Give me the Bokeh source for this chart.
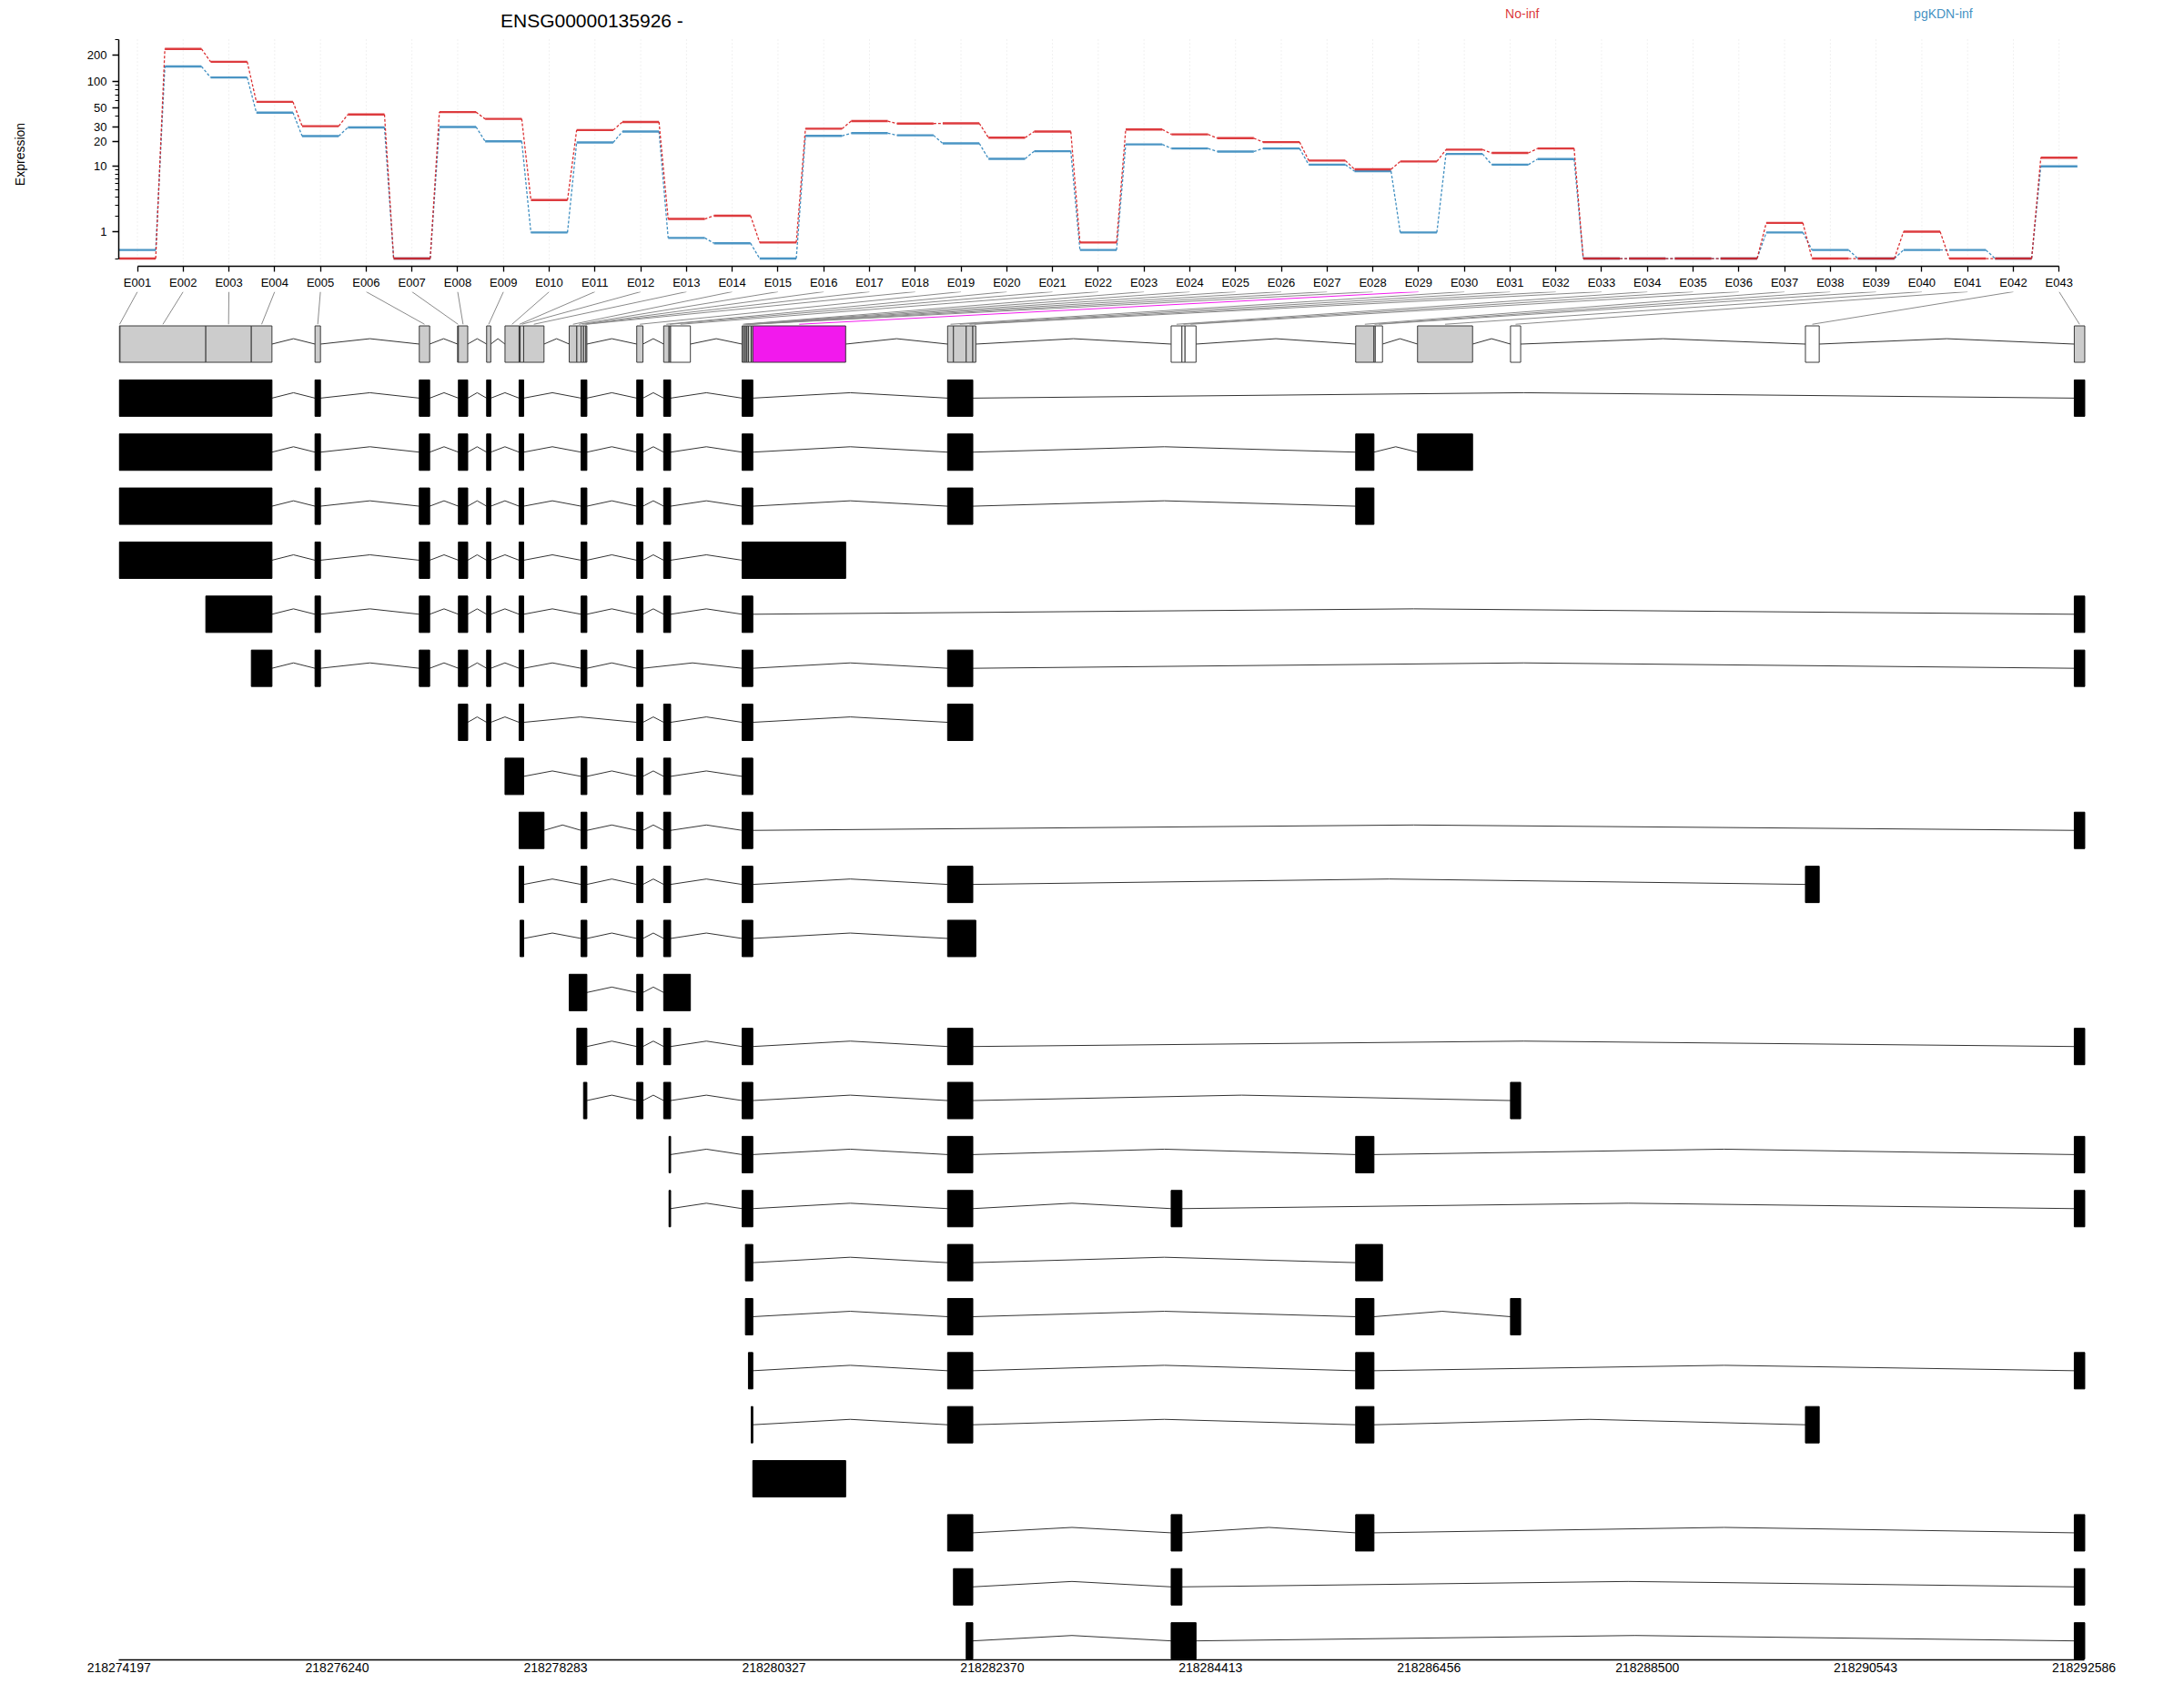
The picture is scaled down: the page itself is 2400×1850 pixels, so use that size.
import math
from bokeh.plotting import figure
from bokeh.models import (Range1d, FixedTicker, CustomJSTickFormatter,
                          NumeralTickFormatter, Label, ColumnDataSource)
from bokeh.layouts import column, row
from bokeh.embed import file_html
from bokeh.resources import INLINE

FONT = "Liberation Sans"

# ---------------- data ----------------
gene_title = "ENSG00000135926 -"
y_axis_title = "Expression"
condition_names = ["No-inf", "pgKDN-inf"]
condition_colors = ["#D7191C", "#2B83BA"]

exon_ids = ["E001", "E002", "E003", "E004", "E005", "E006", "E007", "E008", "E009", "E010",
            "E011", "E012", "E013", "E014", "E015", "E016", "E017", "E018", "E019", "E020",
            "E021", "E022", "E023", "E024", "E025", "E026", "E027", "E028", "E029", "E030",
            "E031", "E032", "E033", "E034", "E035", "E036", "E037", "E038", "E039", "E040",
            "E041", "E042", "E043"]

expr_no_inf = [0, 233, 166, 58, 30.3, 41.4, 0, 44.2, 36.8, 3.58,
               27.3, 33.9, 1.80, 2.05, 0.52, 28.3, 34.7, 32.5, 32.7, 22.2,
               26.2, 0.52, 27.7, 24.3, 21.9, 19.7, 11.8, 9.2, 11.5, 16.0,
               14.6, 16.5, 0, 0, 0, 0, 1.53, 0, 0, 1.01,
               0, 0, 12.8]
expr_pgkdn_inf = [0.25, 147, 110, 43.5, 23.2, 29.3, 0, 29.7, 20.1, 0.97,
                  19.5, 26.2, 0.71, 0.49, 0, 23.3, 25.1, 23.7, 19.0, 12.4,
                  15.3, 0.25, 18.5, 16.5, 15.2, 16.5, 10.5, 8.7, 0.97, 14.2,
                  10.5, 12.3, 0, 0, 0, 0, 0.97, 0.25, 0, 0.25,
                  0.25, 0, 10.0]

y_tick_values = [1, 10, 20, 30, 50, 100, 200]
y_minor_values = [0, 1, 2, 3, 4, 5, 6, 7, 8, 9, 10, 20, 30, 40, 50, 60, 70, 80, 90, 100, 200, 300]

bin_start = [218274200, 218274207, 218275010, 218275436, 218276032, 218277008, 218277366,
             218277374, 218277638, 218277810, 218277942, 218277951, 218277985, 218278411,
             218278482, 218278522, 218278545, 218278567, 218279043, 218279295, 218279345,
             218279360, 218280029, 218280044, 218280060, 218280074, 218280088, 218280114,
             218280129, 218281952, 218282007, 218282126, 218282188, 218284044, 218284145,
             218284174, 218285771, 218285942, 218285954, 218286350, 218287220, 218289980,
             218292496]
bin_end = [218274207, 218275010, 218275436, 218275629, 218276083, 218277105, 218277374,
           218277461, 218277677, 218277942, 218277951, 218277985, 218278175, 218278482,
           218278522, 218278545, 218278567, 218278576, 218279101, 218279345, 218279360,
           218279545, 218280044, 218280060, 218280074, 218280088, 218280114, 218280129,
           218280998, 218282007, 218282126, 218282188, 218282216, 218284145, 218284174,
           218284277, 218285942, 218285954, 218286022, 218286865, 218287315, 218290109,
           218292594]
# g = tested (grey), w = not tested (white), s = significant (magenta)
bin_status = ["g", "g", "g", "g", "g", "g", "g", "g", "g", "g",
              "g", "g", "g", "g", "g", "g", "g", "g", "g", "g",
              "g", "w", "g", "g", "g", "g", "g", "g", "s", "g",
              "g", "g", "g", "w", "w", "w", "g", "w", "w", "g",
              "w", "w", "g"]
status_fill = {"g": "#CCCCCC", "w": "#FFFFFF", "s": "#F219ED"}

# transcripts: exon bins used (ranges of consecutive bins form one exon)
transcripts = [
    "1-4,5,6,8,9,11-12,16-18,19,20-21,23-28,30-32,43",
    "1-4,5,6,8,9,11-12,16-18,19,20-21,23-28,30-32,37,40",
    "1-4,5,6,8,9,11-12,16-18,19,20-21,23-28,30-32,37",
    "1-4,5,6,8,9,11-12,16-18,19,20-21,23-29",
    "3-4,5,6,8,9,11-12,16-18,19,20-21,23-28,43",
    "4,5,6,8,9,11-12,16-18,19,23-28,30-32,43",
    "8,9,11-12,19,20-21,23-28,30-32",
    "10-12,16-18,19,20-21,23-28",
    "11-13,16-18,19,20-21,23-28,43",
    "11-12,16-18,19,20-21,23-28,30-32,42",
    "12,16-18,19,20-21,23-28,30-33",
    "14-18,19,20-22",
    "15-18,19,20-21,23-28,30-32,43",
    "17-18,19,20-21,23-28,30-32,41",
    "21,23-28,30-32,37,43",
    "21,23-28,30-32,34,43",
    "25-28,30-32,37-39",
    "25-28,30-32,37,41",
    "27-28,30-32,37,43",
    "28,30-32,37,42",
    "29",
    "30-32,34,37,43",
    "31-32,34,43",
    "32,34-36,43",
]

axis_ticks = [218274197, 218276240, 218278283, 218280327, 218282370,
              218284413, 218286456, 218288500, 218290543, 218292586]

# ---------------- layout helpers (page pixels) ----------------
LAB_W = 80                       # narrow strip holding the y-axis title
FIG_W = 2392 - LAB_W
MB_L = 130 - LAB_W
FRAME_L, FRAME_R = 130, 2296
MB_R = LAB_W + FIG_W - FRAME_R
EX_PX0, EX_STEP = 150.5, 50.28                      # E001 position, spacing (px)
LOG_PX1, LOG_SCALE = 256.0, 97.89                   # px of value 1, px per log10 unit


def L(v):
    return math.log10(v + 1.0)


def px_to_ex(px):
    return 1 + (px - EX_PX0) / EX_STEP


def py_to_L(py):
    return L(1) + (LOG_PX1 - py) / LOG_SCALE


TOP_H, TOP_MB_B = 320, 26
x0, x1 = px_to_ex(FRAME_L), px_to_ex(FRAME_R)
yb, yt = py_to_L(TOP_H - TOP_MB_B), py_to_L(0)

# ---------------- y-axis title strip ----------------
p0 = figure(width=LAB_W, height=TOP_H, x_range=Range1d(0, LAB_W), y_range=Range1d(0, TOP_H),
            output_backend="svg", toolbar_location=None, min_border=0)
p0.axis.visible = False
p0.grid.visible = False
p0.outline_line_color = None
p0.add_layout(Label(x=21, y=TOP_H - 169, text=y_axis_title, angle=math.pi / 2,
                    text_font=FONT, text_font_size="14px", text_color="black",
                    text_align="center", text_baseline="middle"))

# ---------------- expression panel ----------------
p1 = figure(width=FIG_W, height=TOP_H, x_range=Range1d(x0, x1), y_range=Range1d(yb, yt),
            output_backend="svg", toolbar_location=None,
            min_border_left=MB_L, min_border_right=MB_R, min_border_top=0,
            min_border_bottom=TOP_MB_B)
p1.xgrid.visible = False
p1.ygrid.visible = False
p1.outline_line_color = None
p1.background_fill_color = "white"

idx = list(range(1, len(exon_ids) + 1))
p1.segment(x0=idx, y0=[yb] * len(idx), x1=idx, y1=[L(300)] * len(idx),
           line_color="#E2E2E2", line_width=1, line_dash="1 3")

for vals, col in [(expr_pgkdn_inf, condition_colors[1]), (expr_no_inf, condition_colors[0])]:
    lv = [L(v) for v in vals]
    seg = ColumnDataSource(dict(x0=[i - 0.4 for i in idx], x1=[i + 0.4 for i in idx], y=lv))
    con = ColumnDataSource(dict(x0=[i + 0.4 for i in idx[:-1]], x1=[i + 0.6 for i in idx[:-1]],
                                y0=lv[:-1], y1=lv[1:]))
    p1.segment(x0="x0", y0="y0", x1="x1", y1="y1", source=con, line_color=col,
               line_width=1.3, line_dash="3 2", line_alpha=0.9)
    p1.segment(x0="x0", y0="y", x1="x1", y1="y", source=seg, line_color=col,
               line_width=2.4, line_alpha=0.85)

xa = p1.xaxis[0]
xa.ticker = FixedTicker(ticks=idx)
xa.major_label_overrides = {i: exon_ids[i - 1] for i in idx}
xa.bounds = (1, len(idx))
xa.axis_line_width = 1.5
xa.major_tick_line_width = 1.3
xa.major_tick_out = 6
xa.major_tick_in = 0
xa.minor_tick_line_color = None
xa.major_label_standoff = 4
xa.major_label_text_font = FONT
xa.major_label_text_font_size = "13px"
xa.major_label_text_color = "black"

ya = p1.yaxis[0]
ya.ticker = FixedTicker(ticks=[L(v) for v in y_tick_values],
                        minor_ticks=[L(v) for v in y_minor_values])
ya.formatter = CustomJSTickFormatter(code="return String(Math.round(Math.pow(10, tick) - 1));")
ya.bounds = (L(0), L(300))
ya.axis_line_width = 1.5
ya.major_tick_line_width = 1.3
ya.major_tick_out = 7
ya.major_tick_in = 0
ya.minor_tick_out = 4
ya.minor_tick_in = 0
ya.minor_tick_line_width = 1.1
ya.major_label_standoff = 6
ya.major_label_orientation = "horizontal"
ya.major_label_text_font = FONT
ya.major_label_text_font_size = "13px"
ya.major_label_text_color = "black"

p1.add_layout(Label(x=px_to_ex(549.5), y=py_to_L(21.7), text=gene_title,
                    text_font=FONT, text_font_size="21px", text_color="black",
                    text_align="left", text_baseline="alphabetic"))
p1.add_layout(Label(x=px_to_ex(1653.6), y=py_to_L(14.5), text=condition_names[0],
                    text_font=FONT, text_font_size="14px", text_color=condition_colors[0],
                    text_alpha=0.9, text_align="left", text_baseline="alphabetic"))
p1.add_layout(Label(x=px_to_ex(2102.6), y=py_to_L(14.5), text=condition_names[1],
                    text_font=FONT, text_font_size="14px", text_color=condition_colors[1],
                    text_alpha=0.9, text_align="left", text_baseline="alphabetic"))

# ---------------- gene model / transcripts panel ----------------
BOT_H = 1529
ROW_PX0, ROW_STEP = 377.5, 59.36
frame_top_px = TOP_H
frame_bot_px = 1823
BOT_MB_B = TOP_H + BOT_H - frame_bot_px
r_top = -(ROW_PX0 - frame_top_px) / ROW_STEP
r_bot = (frame_bot_px - ROW_PX0) / ROW_STEP

GPX0 = 130.2
GPX1 = 2289.5
bp_per_px = (axis_ticks[-1] - axis_ticks[0]) / (GPX1 - GPX0)
g0 = axis_ticks[0] + (FRAME_L - GPX0) * bp_per_px
g1 = axis_ticks[0] + (FRAME_R - GPX0) * bp_per_px

p2 = figure(width=FIG_W, height=BOT_H, x_range=Range1d(g0, g1), y_range=Range1d(r_bot, r_top),
            output_backend="svg", toolbar_location=None,
            min_border_left=MB_L, min_border_right=MB_R, min_border_top=0,
            min_border_bottom=BOT_MB_B)
p2.xgrid.visible = False
p2.ygrid.visible = False
p2.yaxis.visible = False
p2.outline_line_color = None

HALF = 20.0 / ROW_STEP
PEAK = 0.1

# connectors from exon labels to bins
lab_g = [g0 + (i - x0) / (x1 - x0) * (g1 - g0) for i in idx]
mid = [(s + e) / 2 for s, e in zip(bin_start, bin_end)]
con_col = ["#F219ED" if st == "s" else "#8A8A8A" for st in bin_status]
p2.segment(x0=lab_g, y0=[r_top] * len(idx), x1=mid, y1=[-HALF - 0.03] * len(idx),
           line_color=con_col, line_width=1)

# gene model introns
gx, gy = [], []
for i in range(len(bin_start) - 1):
    if bin_end[i] < bin_start[i + 1]:
        a, b = bin_end[i], bin_start[i + 1]
        gx.append([a, (a + b) / 2, b])
        gy.append([0, -PEAK, 0])
p2.multi_line(xs=gx, ys=gy, line_color="#333333", line_width=1)

# gene model bins
p2.quad(left=bin_start, right=bin_end, top=[-HALF] * len(bin_start), bottom=[HALF] * len(bin_start),
        fill_color=[status_fill[s] for s in bin_status], line_color="#3A3A3A", line_width=1)

# transcripts
tl, tr, tt, tb = [], [], [], []
ix, iy = [], []
for k, tx in enumerate(transcripts, start=1):
    exons = []
    for tok in tx.split(","):
        if "-" in tok:
            a, b = tok.split("-")
        else:
            a = b = tok
        exons.append((bin_start[int(a) - 1], bin_end[int(b) - 1]))
    for s, e in exons:
        tl.append(s); tr.append(e); tt.append(k - HALF); tb.append(k + HALF)
    for (s1, e1), (s2, e2) in zip(exons[:-1], exons[1:]):
        ix.append([e1, (e1 + s2) / 2, s2])
        iy.append([k, k - PEAK, k])
p2.multi_line(xs=ix, ys=iy, line_color="#333333", line_width=1)
p2.quad(left=tl, right=tr, top=tt, bottom=tb, fill_color="black", line_color="black", line_width=1)

ba = p2.xaxis[0]
ba.ticker = FixedTicker(ticks=axis_ticks)
ba.formatter = NumeralTickFormatter(format="0")
ba.bounds = (axis_ticks[0], axis_ticks[-1])
ba.axis_line_width = 1.5
ba.major_tick_out = 0
ba.major_tick_in = 0
ba.minor_tick_line_color = None
ba.major_label_standoff = 3
ba.major_label_text_font = FONT
ba.major_label_text_font_size = "14px"
ba.major_label_text_color = "black"

layout = row(p0, column(p1, p2, spacing=0), spacing=0)
open("out.html", "w").write(file_html(layout, INLINE))
